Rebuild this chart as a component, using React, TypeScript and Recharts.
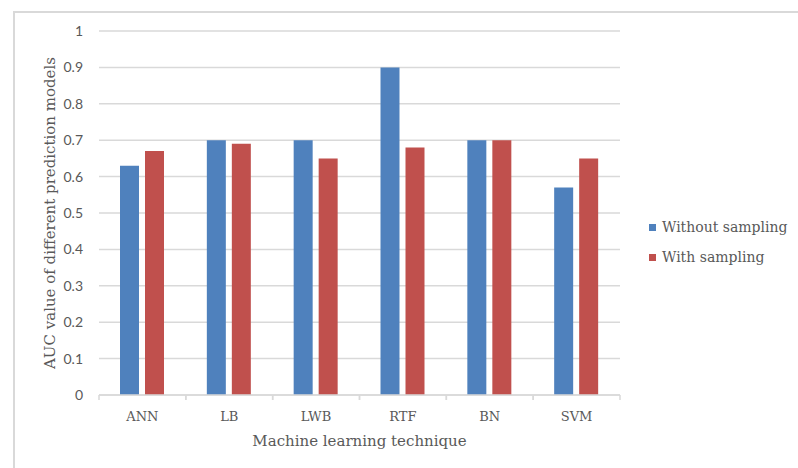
import React from 'react';
import { BarChart, Bar, XAxis, YAxis, CartesianGrid, Legend, Label } from 'recharts';

// Categories and AUC values
const techniques = ['ANN', 'LB', 'LWB', 'RTF', 'BN', 'SVM'];
const withoutSampling = [0.63, 0.7, 0.7, 0.9, 0.7, 0.57];
const withSampling = [0.67, 0.69, 0.65, 0.68, 0.7, 0.65];
const yTicks = [0, 0.1, 0.2, 0.3, 0.4, 0.5, 0.6, 0.7, 0.8, 0.9, 1];

const seriesInfo = [
  { key: 'without', name: 'Without sampling', color: '#4f81bd' },
  { key: 'with', name: 'With sampling', color: '#c0504d' },
];

const data = techniques.map((t, i) => ({
  technique: t,
  without: withoutSampling[i],
  with: withSampling[i],
}));

const serif = '"DejaVu Serif", serif';
const sans = 'Lato, "Open Sans", sans-serif';
const gridColor = '#d9d9d9';
const textColor = '#595959';

const CHART_W = 798;
const CHART_H = 468;
const LEGEND_W = 150;
// legend on the right takes LEGEND_W of the right margin
const MARGIN = { top: 31, right: 178 - LEGEND_W, bottom: 13, left: 0 };
const Y_WIDTH = 99;
const PLOT_W = CHART_W - 178 - Y_WIDTH;
const halfBand = PLOT_W / techniques.length / 2;

// category label plus the small tick marks at the band edges, as Excel draws them
const CategoryTick = (props: any) => {
  const { x, y, payload } = props;
  const half = payload && payload.offset ? payload.offset : halfBand;
  const axisY = y - 8;
  return (
    <g>
      <line x1={x - half} y1={axisY} x2={x - half} y2={axisY + 5} stroke={gridColor} strokeWidth={1.5} />
      <line x1={x + half} y1={axisY} x2={x + half} y2={axisY + 5} stroke={gridColor} strokeWidth={1.5} />
      <text x={x} y={y + 18} textAnchor="middle" fill={textColor} fontFamily={serif} fontSize={13}>
        {payload.value}
      </text>
    </g>
  );
};

const LegendBox = () => (
  <div style={{ fontFamily: serif, fontSize: 14, color: textColor }}>
    {seriesInfo.map((s) => (
      <div key={s.key} style={{ display: 'flex', alignItems: 'center', height: 30 }}>
        <span style={{ width: 7, height: 7, background: s.color, marginRight: 6, display: 'inline-block' }} />
        <span>{s.name}</span>
      </div>
    ))}
  </div>
);

export default function App() {
  return (
    <div style={{ position: 'absolute', left: 0, top: 0, width: CHART_W, height: CHART_H, background: '#fff', overflow: 'hidden' }}>
      <div
        style={{
          position: 'absolute',
          left: 13,
          top: 11,
          width: CHART_W,
          height: CHART_H,
          borderLeft: `2px solid ${gridColor}`,
          borderTop: `2px solid ${gridColor}`,
        }}
      />
      <div style={{ position: 'absolute', left: 0, top: 0 }}>
        <BarChart width={CHART_W} height={CHART_H} data={data} margin={MARGIN} barSize={19} barGap={6}>
          <CartesianGrid vertical={false} stroke={gridColor} strokeWidth={1.5} />
          <XAxis
            dataKey="technique"
            height={60}
            stroke={gridColor}
            strokeWidth={1.5}
            tickLine={false}
            tick={<CategoryTick />}
            interval={0}
          >
            <Label
              value="Machine learning technique"
              position="insideBottom"
              offset={9}
              fill={textColor}
              fontFamily={serif}
              fontSize={15}
            />
          </XAxis>
          <YAxis
            width={Y_WIDTH}
            domain={[0, 1]}
            ticks={yTicks}
            axisLine={false}
            tickLine={false}
            tickMargin={10}
            tick={{ fill: textColor, fontFamily: sans, fontSize: 14 }}
          >
            <Label
              value="AUC value of different  prediction models"
              position="center"
              angle={-90}
              fill={textColor}
              fontFamily={serif}
              fontSize={15}
            />
          </YAxis>
          <Legend
            layout="vertical"
            verticalAlign="middle"
            align="right"
            width={LEGEND_W}
            content={<LegendBox />}
            wrapperStyle={{ position: 'absolute', left: 649, top: 212, width: LEGEND_W }}
          />
          {seriesInfo.map((s) => (
            <Bar key={s.key} dataKey={s.key} name={s.name} fill={s.color} isAnimationActive={false} />
          ))}
        </BarChart>
      </div>
    </div>
  );
}
